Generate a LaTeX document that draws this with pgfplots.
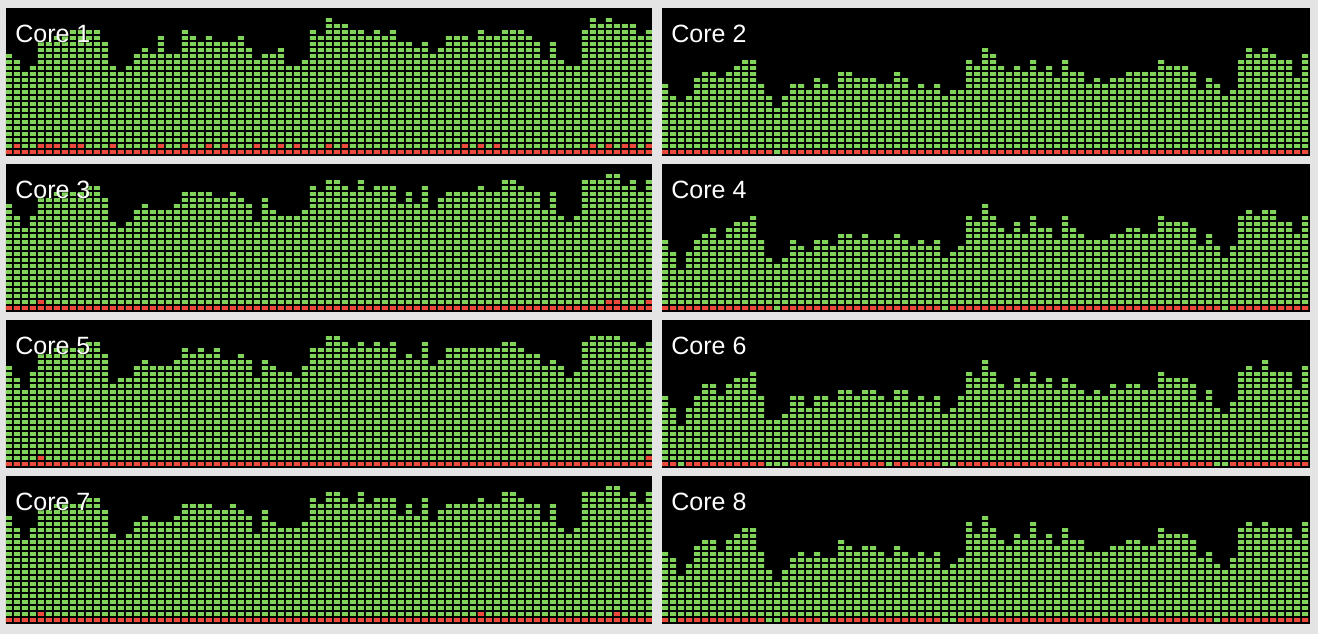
\documentclass[border=0pt]{standalone}
\usepackage{pgfplots}
\usepackage{pgfplotstable}
\usepackage{fontspec}
\setmainfont{Liberation Sans}
\pgfplotsset{compat=1.18}
\definecolor{cgreen}{RGB}{126,211,88}
\definecolor{cred}{RGB}{236,74,58}
\definecolor{cbg}{RGB}{228,228,228}

% t = total blocks, r = red (system) blocks
\pgfplotstableread[row sep=\\]{t r\\
17 1\\16 2\\14 1\\15 1\\19 2\\19 2\\20 2\\20 1\\21 2\\21 2\\21 1\\21 1\\19 1\\15 2\\14 1\\15 1\\17 1\\18 1\\17 1\\20 2\\
17 1\\17 1\\21 2\\20 1\\19 1\\20 2\\19 1\\19 2\\19 1\\20 1\\18 1\\16 2\\17 1\\17 1\\18 2\\15 1\\15 2\\16 1\\21 1\\20 1\\
23 2\\22 1\\22 2\\21 1\\21 1\\20 1\\21 1\\20 1\\21 1\\19 1\\19 1\\18 1\\19 1\\17 1\\18 1\\20 1\\20 1\\20 2\\19 1\\21 2\\
20 1\\20 2\\21 1\\21 1\\21 1\\20 1\\19 1\\16 1\\19 1\\16 1\\15 1\\15 1\\21 1\\23 2\\22 1\\23 2\\22 1\\22 2\\22 2\\20 1\\21 2\\
}\coreA
\pgfplotstableread[row sep=\\]{t r\\
12 1\\10 1\\9 1\\10 1\\13 1\\14 1\\14 1\\13 1\\14 1\\15 1\\16 1\\16 1\\12 1\\10 1\\8 0\\10 1\\12 1\\12 1\\11 1\\13 1\\
12 1\\11 1\\14 1\\14 1\\13 1\\13 1\\13 1\\12 1\\12 1\\14 1\\13 1\\11 1\\12 1\\11 1\\12 1\\10 1\\11 1\\11 1\\16 1\\15 1\\
18 1\\17 1\\15 1\\14 1\\15 1\\14 1\\16 1\\14 1\\15 1\\13 1\\16 1\\14 1\\14 1\\12 1\\13 1\\12 1\\13 1\\13 1\\14 1\\14 1\\
14 1\\14 1\\16 1\\15 1\\15 1\\15 1\\14 1\\11 1\\13 1\\12 1\\10 1\\11 1\\16 1\\18 1\\17 1\\18 1\\17 1\\16 1\\16 1\\13 1\\17 1\\
}\coreB
\pgfplotstableread[row sep=\\]{t r\\
18 1\\16 1\\14 1\\16 1\\19 2\\19 1\\20 1\\20 1\\20 1\\20 1\\21 1\\21 1\\19 1\\15 1\\14 1\\15 1\\17 1\\18 1\\17 1\\17 1\\
17 1\\18 1\\20 1\\20 1\\20 1\\20 1\\19 1\\19 1\\20 1\\19 1\\18 1\\15 1\\19 1\\17 1\\16 1\\16 1\\16 1\\17 1\\21 1\\20 1\\
22 1\\22 1\\21 1\\20 1\\22 1\\20 1\\21 1\\21 1\\21 1\\18 1\\20 1\\18 1\\21 1\\17 1\\19 1\\20 1\\20 1\\20 1\\20 1\\21 1\\
20 1\\20 1\\22 1\\22 1\\21 1\\20 1\\20 1\\17 1\\20 1\\16 1\\15 1\\16 1\\22 1\\22 1\\22 1\\23 2\\23 2\\21 1\\22 1\\20 1\\22 2\\
}\coreC
\pgfplotstableread[row sep=\\]{t r\\
12 1\\10 1\\7 1\\10 1\\12 1\\13 1\\14 1\\12 1\\14 1\\15 1\\15 1\\16 1\\12 1\\9 1\\8 0\\9 1\\12 1\\11 1\\10 1\\12 1\\
12 1\\11 1\\13 1\\13 1\\12 1\\13 1\\12 1\\12 1\\12 1\\13 1\\12 1\\11 1\\12 1\\11 1\\12 1\\9 0\\10 1\\11 1\\16 1\\15 1\\
18 1\\16 1\\14 1\\13 1\\15 1\\13 1\\16 1\\14 1\\14 1\\12 1\\16 1\\14 1\\13 1\\12 1\\12 1\\12 1\\13 1\\13 1\\14 1\\14 1\\
13 1\\13 1\\16 1\\15 1\\15 1\\15 1\\14 1\\11 1\\13 1\\11 1\\9 0\\11 1\\16 1\\17 1\\16 1\\17 1\\17 1\\15 1\\15 1\\13 1\\16 1\\
}\coreD
\pgfplotstableread[row sep=\\]{t r\\
17 1\\15 1\\13 1\\16 1\\19 2\\19 1\\20 1\\20 1\\20 1\\20 1\\21 1\\21 1\\19 1\\14 1\\15 1\\15 1\\17 1\\18 1\\17 1\\17 1\\
17 1\\18 1\\20 1\\19 1\\20 1\\19 1\\20 1\\18 1\\18 1\\19 1\\18 1\\15 1\\18 1\\17 1\\16 1\\16 1\\15 1\\17 1\\20 1\\20 1\\
22 1\\22 1\\21 1\\20 1\\21 1\\20 1\\21 1\\20 1\\21 1\\18 1\\19 1\\18 1\\21 1\\17 1\\18 1\\20 1\\20 1\\20 1\\20 1\\20 1\\
20 1\\20 1\\21 1\\21 1\\20 1\\19 1\\19 1\\17 1\\18 1\\17 1\\15 1\\16 1\\21 1\\22 1\\22 1\\22 1\\22 1\\21 1\\21 1\\20 1\\21 2\\
}\coreE
\pgfplotstableread[row sep=\\]{t r\\
12 1\\10 1\\7 0\\10 1\\12 1\\14 1\\14 1\\12 1\\14 1\\15 1\\15 1\\16 1\\12 1\\8 0\\8 0\\9 0\\12 1\\12 1\\10 1\\12 1\\
12 1\\11 1\\13 1\\13 1\\12 1\\13 1\\13 1\\12 1\\11 0\\13 1\\13 1\\11 1\\12 1\\11 1\\12 1\\9 0\\10 0\\12 1\\16 1\\15 1\\
18 1\\16 1\\14 1\\13 1\\15 1\\14 1\\16 1\\14 1\\15 1\\13 1\\15 1\\14 1\\13 1\\12 1\\13 1\\12 1\\14 1\\13 1\\14 1\\14 1\\
13 1\\13 1\\16 1\\15 1\\15 1\\15 1\\14 1\\11 1\\13 1\\10 0\\9 0\\11 1\\16 1\\17 1\\16 1\\18 1\\16 1\\16 1\\16 1\\13 1\\17 1\\
}\coreF
\pgfplotstableread[row sep=\\]{t r\\
18 1\\16 1\\14 1\\16 1\\19 2\\19 1\\20 1\\20 1\\20 1\\20 1\\21 1\\21 1\\19 1\\15 1\\14 1\\15 1\\17 1\\18 1\\17 1\\17 1\\
17 1\\18 1\\20 1\\20 1\\20 1\\20 1\\19 1\\19 1\\20 1\\19 1\\18 1\\15 1\\19 1\\17 1\\16 1\\16 1\\16 1\\17 1\\21 1\\20 1\\
22 1\\22 1\\21 1\\20 1\\22 1\\20 1\\21 1\\21 1\\21 1\\18 1\\20 1\\18 1\\21 1\\17 1\\19 1\\20 1\\20 1\\20 1\\20 1\\21 2\\
20 1\\20 1\\22 1\\22 1\\21 1\\20 1\\20 1\\17 1\\20 1\\16 1\\15 1\\16 1\\22 1\\22 1\\22 1\\23 1\\23 2\\21 1\\22 1\\20 1\\22 1\\
}\coreG
\pgfplotstableread[row sep=\\]{t r\\
12 1\\11 0\\8 1\\10 1\\13 1\\14 1\\14 1\\12 1\\14 1\\15 1\\16 1\\16 1\\12 1\\9 0\\7 0\\9 1\\11 1\\12 1\\11 1\\12 1\\
11 0\\11 1\\14 1\\13 1\\12 1\\13 1\\13 1\\12 1\\11 1\\13 1\\12 1\\11 1\\12 1\\11 1\\12 1\\9 0\\10 0\\11 1\\17 1\\15 1\\
18 1\\16 1\\14 1\\13 1\\15 1\\14 1\\17 1\\14 1\\15 1\\13 1\\16 1\\14 1\\14 1\\12 1\\12 1\\12 1\\13 1\\13 1\\14 1\\14 1\\
13 1\\13 1\\16 1\\15 1\\15 1\\15 1\\14 1\\11 1\\12 1\\10 0\\9 1\\11 1\\16 1\\17 1\\16 1\\17 1\\16 1\\16 1\\16 1\\14 1\\17 1\\
}\coreH

\pgfplotsset{core/.style={
  scale only axis, width=323pt, height=74pt,
  xmin=-0.375, xmax=80.375, ymin=-0.16667, ymax=24.5,
  axis background/.style={fill=black},
  axis line style={draw=none},
  xtick=\empty, ytick={0,...,24}, xticklabels={}, yticklabels={},
  major tick length=0pt, tick style={draw=none},
  ymajorgrids, grid style={black, line width=1pt},
  axis on top, clip=true, anchor=north west},
  coreR/.style={core, width=324pt, xmax=80.625},
  gbar/.style={ybar, bar shift=0pt, bar width=0.75, fill=cgreen, draw=none},
  rbar/.style={ybar, bar shift=0pt, bar width=0.75, fill=cred, draw=none},
}
\newcommand\corepanel[4]{% style, x, y, table
  \begin{axis}[#1, at={(#2,#3)}]
    \addplot[gbar] table[x expr=\coordindex, y=t]{#4};
    \addplot[rbar] table[x expr=\coordindex, y=r]{#4};
  \end{axis}}
\newcommand\corelabel[3]{%
  \node[anchor=base west, inner sep=0pt, text=black, opacity=0.45, font=\fontsize{12.5}{12.5}\selectfont] at (#1+0.5pt,#2-0.5pt) {#3};
  \node[anchor=base west, inner sep=0pt, text=white, font=\fontsize{12.5}{12.5}\selectfont] at (#1,#2) {#3};}

\begin{document}
\begin{tikzpicture}
  \fill[cbg] (0,0) rectangle (659pt,-317pt);
  \corepanel{core}{3pt}{-4pt}{\coreA}
  \corepanel{coreR}{331pt}{-4pt}{\coreB}
  \corepanel{core}{3pt}{-82pt}{\coreC}
  \corepanel{coreR}{331pt}{-82pt}{\coreD}
  \corepanel{core}{3pt}{-160pt}{\coreE}
  \corepanel{coreR}{331pt}{-160pt}{\coreF}
  \corepanel{core}{3pt}{-238pt}{\coreG}
  \corepanel{coreR}{331pt}{-238pt}{\coreH}
  \corelabel{7.5pt}{-21pt}{Core 1}
  \corelabel{335.5pt}{-21pt}{Core 2}
  \corelabel{7.5pt}{-99pt}{Core 3}
  \corelabel{335.5pt}{-99pt}{Core 4}
  \corelabel{7.5pt}{-177pt}{Core 5}
  \corelabel{335.5pt}{-177pt}{Core 6}
  \corelabel{7.5pt}{-255pt}{Core 7}
  \corelabel{335.5pt}{-255pt}{Core 8}
  \pgfresetboundingbox
  \path (0,0) rectangle (659pt,-317pt);
\end{tikzpicture}
\end{document}
